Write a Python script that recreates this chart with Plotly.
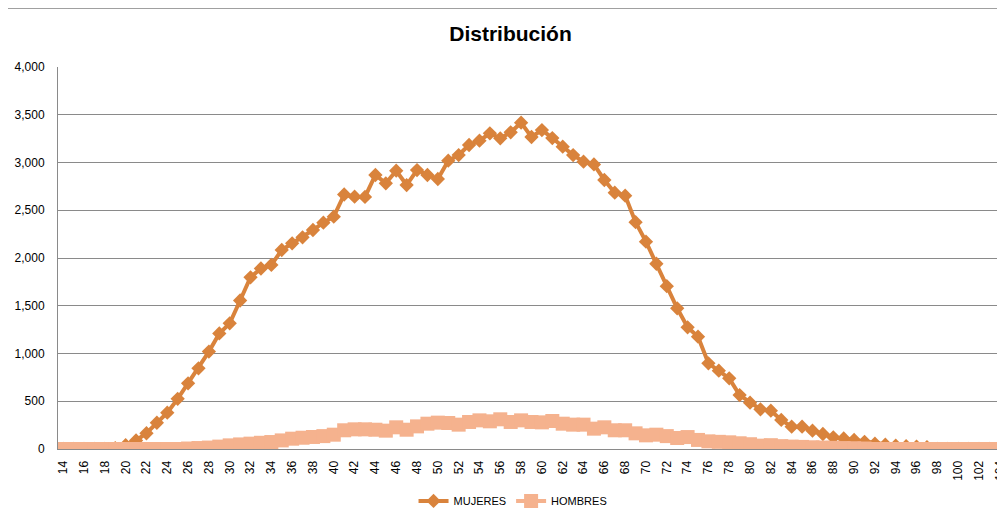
import plotly.graph_objects as go

# Edades (categorias del eje X)
edades = list(range(14, 105))

# Valores
mujeres = [0, 0, 0, 0, 0, 10, 40, 90, 165, 275,
           380, 525, 688, 845, 1020, 1210, 1316, 1555, 1798, 1890,
           1927, 2084, 2154, 2217, 2293, 2370, 2433, 2665, 2642, 2640,
           2869, 2782, 2914, 2764, 2921, 2869, 2827, 3019, 3078, 3183,
           3229, 3306, 3253, 3316, 3417, 3267, 3340, 3256, 3166, 3078,
           3009, 2980, 2817, 2684, 2653, 2375, 2171, 1940, 1705, 1473,
           1274, 1176, 897, 820, 740, 565, 485, 415, 401, 304,
           234, 234, 192, 157, 122, 110, 95, 75, 55, 45,
           35, 30, 25, 20, 0, 0, 0, 0, 0, 0, 0]

hombres = [0, 0, 0, 0, 0, 0, 0, 0, 0, 0,
           0, 0, 5, 10, 15, 25, 38, 48, 56, 65,
           73, 90, 108, 118, 126, 135, 150, 196, 206, 206,
           202, 192, 227, 202, 237, 265, 276, 272, 255, 283,
           300, 290, 311, 283, 300, 283, 279, 293, 265, 255,
           255, 213, 227, 196, 196, 164, 143, 150, 135, 115,
           125, 95, 80, 75, 70, 60, 50, 35, 40, 30,
           25, 22, 18, 15, 12, 10, 8, 5, 0, 0,
           0, 0, 0, 0, 0, 0, 0, 0, 0, 0, 0]

fig = go.Figure()

fig.add_trace(go.Scatter(
    x=edades, y=mujeres, name='MUJERES', mode='lines+markers',
    line=dict(color='#D9833C', width=4),
    marker=dict(symbol='diamond', size=11, color='#D9833C')))

fig.add_trace(go.Scatter(
    x=edades, y=hombres, name='HOMBRES', mode='lines+markers',
    line=dict(color='#F5B28E', width=4),
    marker=dict(symbol='square', size=14, color='#F5B28E')))

# the page has an 8px body margin, so the figure is 8px smaller than the window
fig.update_layout(
    width=997, height=509,
    margin=dict(l=50, r=0, t=59, b=68, autoexpand=False),
    paper_bgcolor='white', plot_bgcolor='white',
    font=dict(family='Liberation Sans, Arial, sans-serif', size=12, color='#000000'),
    title=dict(text='<b>Distribución</b>', x=502.5 / 997, xref='container', xanchor='center',
               y=1 - 26 / 509, yanchor='middle', font=dict(size=21)),
    showlegend=True,
    legend=dict(orientation='h', x=0.4805, xanchor='center', y=-0.136, yanchor='middle',
                font=dict(size=11), itemwidth=30),
    xaxis=dict(range=[13.5, 104.5], tickmode='array', tickvals=edades[::2],
               ticktext=[str(e) for e in edades[::2]], tickangle=-90,
               showgrid=False, showline=True, linecolor='#8a8a8a', linewidth=1,
               zeroline=False, ticks='', ticklabelstandoff=6, tickfont=dict(size=12),
               ticklabeloverflow='allow', automargin=False),
    yaxis=dict(range=[0, 4000], dtick=500, tickformat=',', showgrid=True,
               gridcolor='#8a8a8a', gridwidth=1, showline=True, linecolor='#8a8a8a',
               zeroline=False, ticks='', ticklabelstandoff=10, tickfont=dict(size=12),
               automargin=False),
    shapes=[
        dict(type='line', xref='paper', yref='paper', x0=-50 / 947, x1=1.0,
             y0=1 + 58.5 / 382, y1=1 + 58.5 / 382, line=dict(color='#a0a0a0', width=1)),
    ],
)

fig.write_html('out.html')
